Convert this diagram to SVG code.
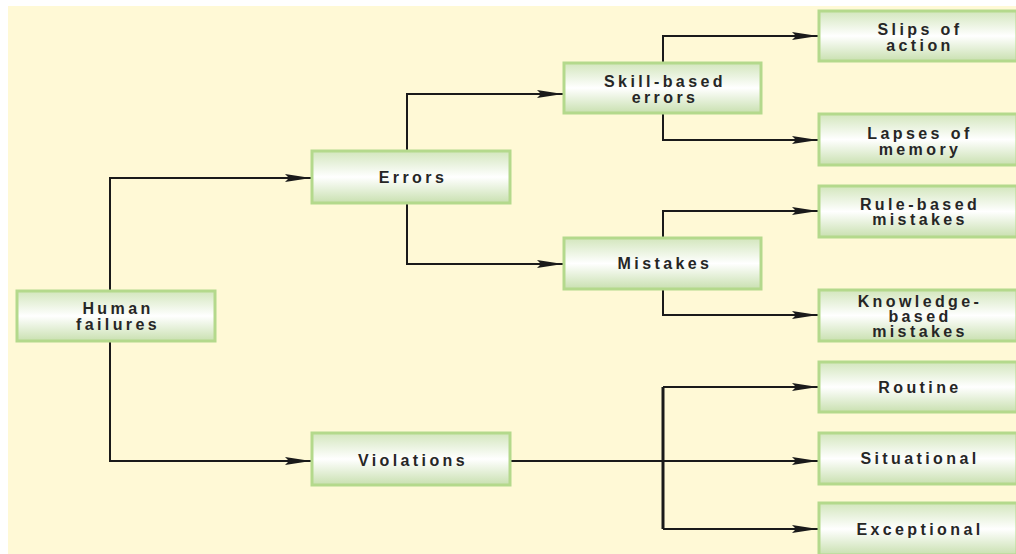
<svg xmlns="http://www.w3.org/2000/svg" width="1016" height="554" viewBox="0 0 1016 554">
<defs>
<linearGradient id="g" x1="0" y1="0" x2="0" y2="1">
<stop offset="0" stop-color="#d3e6bd"/>
<stop offset="0.5" stop-color="#ffffff"/>
<stop offset="1" stop-color="#c9e0b0"/>
</linearGradient>
<marker id="ar" markerWidth="26" markerHeight="10" refX="26" refY="5" orient="auto" markerUnits="userSpaceOnUse">
<path d="M0,1 L26,5 L0,9 L4,5 Z" fill="#1a1a1a"/>
</marker>
<style>
.box{fill:url(#g);stroke:#b4d98c;stroke-width:3}
.t{font-family:"Liberation Sans",Arial,sans-serif;font-weight:bold;font-size:16px;fill:#262626;text-anchor:middle;letter-spacing:3.4px}
.c{fill:none;stroke:#1a1a1a;stroke-width:2}
.v{fill:none;stroke:#1a1a1a;stroke-width:3}
</style>
</defs>
<rect x="0" y="0" width="1016" height="554" fill="#ffffff"/>
<rect x="8" y="6" width="1008" height="548" fill="#fff9d6"/>
<g id="connectors">
<path class="c" d="M110,290 V178 H311" marker-end="url(#ar)"/>
<path class="c" d="M110,342 V461 H311" marker-end="url(#ar)"/>
<path class="c" d="M407,150 V94 H563" marker-end="url(#ar)"/>
<path class="c" d="M407,204 V264 H563" marker-end="url(#ar)"/>
<path class="c" d="M663,62 V36 H818" marker-end="url(#ar)"/>
<path class="c" d="M663,114 V140 H818" marker-end="url(#ar)"/>
<path class="c" d="M663,237 V211 H818" marker-end="url(#ar)"/>
<path class="c" d="M663,290 V315 H818" marker-end="url(#ar)"/>
<path class="c" d="M511,461 H818" marker-end="url(#ar)"/>
<path class="c" d="M663,387 H818" marker-end="url(#ar)"/>
<path class="c" d="M663,529 H818" marker-end="url(#ar)"/>
<path class="v" d="M663,387 V529"/>
</g>
<g id="human-failures"><rect class="box" x="17" y="291" width="198" height="50"/><text class="t" x="118" y="314">Human</text><text class="t" x="118" y="330">failures</text></g>
<g id="errors"><rect class="box" x="312" y="151" width="198" height="52"/><text class="t" x="413" y="183">Errors</text></g>
<g id="violations"><rect class="box" x="312" y="433" width="198" height="52"/><text class="t" x="413" y="466">Violations</text></g>
<g id="skill-based"><rect class="box" x="564" y="63" width="197" height="50"/><text class="t" x="665" y="87">Skill-based</text><text class="t" x="665" y="103">errors</text></g>
<g id="mistakes"><rect class="box" x="564" y="238" width="197" height="51"/><text class="t" x="665" y="269">Mistakes</text></g>
<g id="slips"><rect class="box" x="819" y="11" width="198" height="50"/><text class="t" x="920" y="35">Slips of</text><text class="t" x="920" y="51">action</text></g>
<g id="lapses"><rect class="box" x="819" y="114" width="198" height="51"/><text class="t" x="920" y="139">Lapses of</text><text class="t" x="920" y="155">memory</text></g>
<g id="rule-based"><rect class="box" x="819" y="186" width="198" height="51"/><text class="t" x="920" y="210">Rule-based</text><text class="t" x="920" y="225">mistakes</text></g>
<g id="knowledge-based"><rect class="box" x="819" y="290" width="198" height="51"/><text class="t" x="920" y="307">Knowledge-</text><text class="t" x="920" y="322">based</text><text class="t" x="920" y="337">mistakes</text></g>
<g id="routine"><rect class="box" x="819" y="362" width="198" height="50"/><text class="t" x="920" y="393">Routine</text></g>
<g id="situational"><rect class="box" x="819" y="433" width="198" height="51"/><text class="t" x="920" y="464">Situational</text></g>
<g id="exceptional"><rect class="box" x="819" y="503" width="198" height="52"/><text class="t" x="920" y="535">Exceptional</text></g>
</svg>
